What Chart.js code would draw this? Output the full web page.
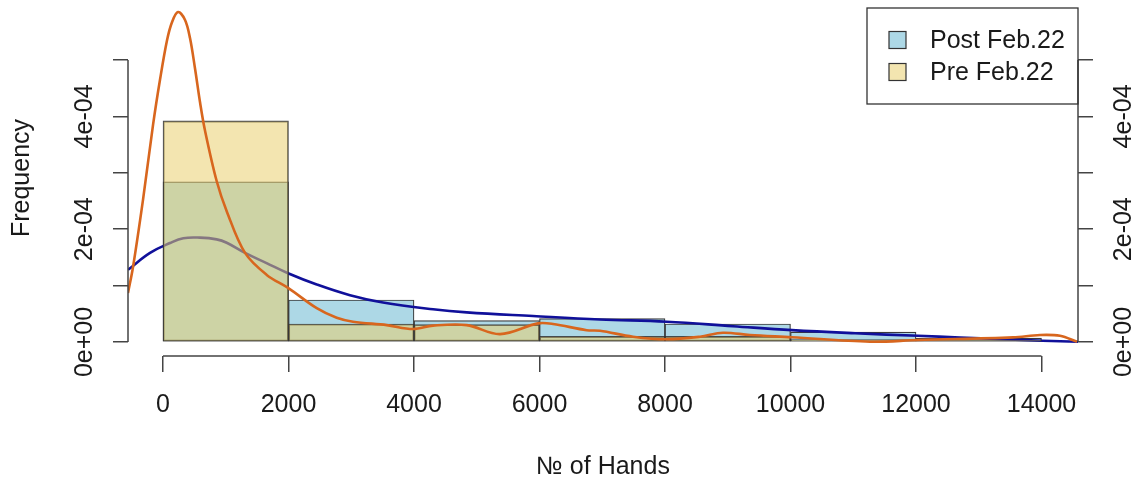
<!DOCTYPE html>
<html>
<head>
<meta charset="utf-8">
<script src="https://cdn.jsdelivr.net/npm/chart.js@4.4.1/dist/chart.umd.min.js"></script>
<style>
  html, body { margin: 0; padding: 0; background: #fff; }
  canvas { display: block; }
</style>
</head>
<body>
<canvas id="handsChart" width="1142" height="485"></canvas>
<script>
// histogram bins and densities
const binEdges = [0, 2000, 4000, 6000, 8000, 10000, 12000, 14000];
const postDensity = [2.84e-4, 0.745e-4, 0.38e-4, 0.415e-4, 0.32e-4, 0.175e-4, 0.07e-4];
const preDensity = [3.92e-4, 0.32e-4, 0.31e-4, 0.10e-4, 0.10e-4, 0.045e-4, 0.03e-4];

// kernel density curves
const postCurveX = [-558, -207, 112, 324, 590, 855, 1015, 1307, 1650, 1992, 2450, 2980, 3506, 4303, 4840, 5896, 6964, 8027, 9084, 10024, 11028, 12032, 12701, 14019, 14582];
const postCurveY = [1.28e-4, 1.58e-4, 1.755e-4, 1.84e-4, 1.85e-4, 1.82e-4, 1.76e-4, 1.58e-4, 1.40e-4, 1.22e-4, 1.02e-4, 0.83e-4, 0.70e-4, 0.58e-4, 0.525e-4, 0.46e-4, 0.40e-4, 0.36e-4, 0.28e-4, 0.21e-4, 0.155e-4, 0.11e-4, 0.08e-4, 0.023e-4, 0.005e-4];
const preCurveX = [-558, -478, -319, -159, -48, 64, 143, 239, 351, 430, 510, 590, 669, 856, 1015, 1307, 1653, 1992, 2450, 2768, 3028, 3565, 3984, 4303, 4840, 5371, 5976, 6215, 6752, 6964, 7490, 8027, 8558, 8924, 9354, 10024, 11267, 12032, 13546, 13976, 14295, 14566];
const preCurveY = [0.87e-4, 1.33e-4, 2.52e-4, 3.85e-4, 4.65e-4, 5.35e-4, 5.67e-4, 5.85e-4, 5.71e-4, 5.39e-4, 4.85e-4, 4.25e-4, 3.75e-4, 2.85e-4, 2.32e-4, 1.58e-4, 1.19e-4, 0.96e-4, 0.60e-4, 0.43e-4, 0.36e-4, 0.30e-4, 0.23e-4, 0.29e-4, 0.30e-4, 0.14e-4, 0.33e-4, 0.32e-4, 0.21e-4, 0.20e-4, 0.094e-4, 0.048e-4, 0.094e-4, 0.165e-4, 0.124e-4, 0.085e-4, 0.005e-4, 0.035e-4, 0.083e-4, 0.124e-4, 0.11e-4, 0.005e-4];

const xTicks = [0, 2000, 4000, 6000, 8000, 10000, 12000, 14000];
const yTicks = [0, 1e-4, 2e-4, 3e-4, 4e-4, 5e-4];
const yTickLabels = ["0e+00", "", "2e-04", "", "4e-04", ""];
const seriesNames = ["Post Feb.22", "Pre Feb.22"];

const FONT = '"Liberation Sans", Arial, sans-serif';
const AXIS_COLOR = "#444";

Chart.defaults.font.family = FONT;
Chart.defaults.font.size = 25;
Chart.defaults.color = "#1a1a1a";

const binMids = binEdges.slice(0, -1).map((e, i) => (e + binEdges[i + 1]) / 2);
const toPoints = (xs, ys) => xs.map((x, i) => ({ x: x, y: ys[i] }));

// R style axis lines: only between first and last tick
const rAxisLines = {
  id: "rAxisLines",
  afterDraw(chart) {
    const { ctx, scales } = chart;
    const x = scales.x, y = scales.y, y2 = scales.y2;
    ctx.save();
    ctx.strokeStyle = AXIS_COLOR;
    ctx.lineWidth = 1.5;
    ctx.beginPath();
    ctx.moveTo(x.getPixelForValue(xTicks[0]), x.top);
    ctx.lineTo(x.getPixelForValue(xTicks[xTicks.length - 1]), x.top);
    ctx.moveTo(y.right, y.getPixelForValue(yTicks[0]));
    ctx.lineTo(y.right, y.getPixelForValue(yTicks[yTicks.length - 1]));
    ctx.moveTo(y2.left, y2.getPixelForValue(yTicks[0]));
    ctx.lineTo(y2.left, y2.getPixelForValue(yTicks[yTicks.length - 1]));
    ctx.stroke();
    ctx.restore();
  }
};

// boxed legend in the top right corner
const boxLegend = {
  id: "boxLegend",
  afterDraw(chart) {
    const { ctx, chartArea } = chart;
    const w = 211, h = 96;
    const right = chartArea.right, top = chartArea.top + 8;
    const left = right - w;
    const sets = [chart.data.datasets[0], chart.data.datasets[2]];
    ctx.save();
    ctx.strokeStyle = "#333";
    ctx.lineWidth = 1.3;
    ctx.strokeRect(left, top, w, h);
    ctx.font = "25px " + FONT;
    ctx.textBaseline = "middle";
    sets.forEach((ds, i) => {
      const cy = top + 32 + i * 32;
      ctx.fillStyle = ds.backgroundColor;
      ctx.fillRect(left + 22, cy - 8.5, 17, 17);
      ctx.strokeStyle = "#333";
      ctx.lineWidth = 1.2;
      ctx.strokeRect(left + 22, cy - 8.5, 17, 17);
      ctx.fillStyle = "#1a1a1a";
      ctx.fillText(ds.label, left + 63, cy + 1);
    });
    ctx.restore();
  }
};

const tickGrid = {
  display: true,
  drawOnChartArea: false,
  drawTicks: true,
  tickLength: 15,
  color: AXIS_COLOR,
  lineWidth: 1.5,
  offset: false
};

// fixed box sizes so the plot area sits where it does in the original
const fixWidth = (w) => (scale) => {
  scale.width = w;
  scale.paddingTop = 0;
  scale.paddingBottom = 0;
};

new Chart(document.getElementById("handsChart"), {
  type: "line",
  data: {
    datasets: [
      {
        type: "bar",
        label: seriesNames[0],
        data: toPoints(binMids, postDensity),
        backgroundColor: "#ADD8E6",
        borderColor: "#3a3a3a",
        borderWidth: 1.2,
        borderSkipped: false,
        grouped: false,
        barPercentage: 1,
        categoryPercentage: 1,
        order: 4
      },
      {
        type: "line",
        label: seriesNames[0] + " density",
        data: toPoints(postCurveX, postCurveY),
        borderColor: "#10109a",
        borderWidth: 2.6,
        pointRadius: 0,
        tension: 0.4,
        fill: false,
        order: 3
      },
      {
        type: "bar",
        label: seriesNames[1],
        data: toPoints(binMids, preDensity),
        backgroundColor: "rgba(233, 207, 109, 0.54)",
        borderColor: "rgba(50, 50, 50, 0.85)",
        borderWidth: 1.2,
        borderSkipped: false,
        grouped: false,
        barPercentage: 1,
        categoryPercentage: 1,
        order: 2
      },
      {
        type: "line",
        label: seriesNames[1] + " density",
        data: toPoints(preCurveX, preCurveY),
        borderColor: "#d8661e",
        borderWidth: 2.6,
        pointRadius: 0,
        tension: 0.35,
        fill: false,
        order: 1
      }
    ]
  },
  options: {
    responsive: false,
    animation: false,
    devicePixelRatio: 1,
    layout: { padding: 0 },
    plugins: {
      legend: { display: false },
      tooltip: { enabled: false }
    },
    scales: {
      x: {
        type: "linear",
        min: -558,
        max: 14582,
        offset: false,
        grid: Object.assign({}, tickGrid, { tickLength: 16 }),
        border: { display: false },
        afterBuildTicks: (scale) => { scale.ticks = xTicks.map(v => ({ value: v })); },
        afterFit: (scale) => {
          scale.height = 129;
          scale.paddingLeft = 0;
          scale.paddingRight = 0;
        },
        ticks: {
          autoSkip: false,
          minRotation: 0,
          maxRotation: 0,
          padding: 18,
          callback: (v) => String(v)
        },
        title: {
          display: true,
          text: "№ of Hands",
          padding: { top: 0, bottom: 3 }
        }
      },
      y: {
        type: "linear",
        position: "left",
        min: -0.248e-4,
        max: 6.064e-4,
        grid: tickGrid,
        border: { display: false },
        afterBuildTicks: (scale) => { scale.ticks = yTicks.map(v => ({ value: v })); },
        afterFit: fixWidth(128),
        ticks: {
          autoSkip: false,
          minRotation: 90,
          maxRotation: 90,
          crossAlign: "center",
          padding: -7,
          callback: (v, i) => yTickLabels[i]
        },
        title: {
          display: true,
          text: "Frequency",
          padding: { top: 7, bottom: 0 }
        }
      },
      y2: {
        type: "linear",
        position: "right",
        min: -0.248e-4,
        max: 6.064e-4,
        grid: tickGrid,
        border: { display: false },
        afterBuildTicks: (scale) => { scale.ticks = yTicks.map(v => ({ value: v })); },
        afterFit: fixWidth(64),
        ticks: {
          autoSkip: false,
          minRotation: 90,
          maxRotation: 90,
          crossAlign: "center",
          padding: -4,
          callback: (v, i) => yTickLabels[i]
        }
      }
    }
  },
  plugins: [rAxisLines, boxLegend]
});
</script>
</body>
</html>
